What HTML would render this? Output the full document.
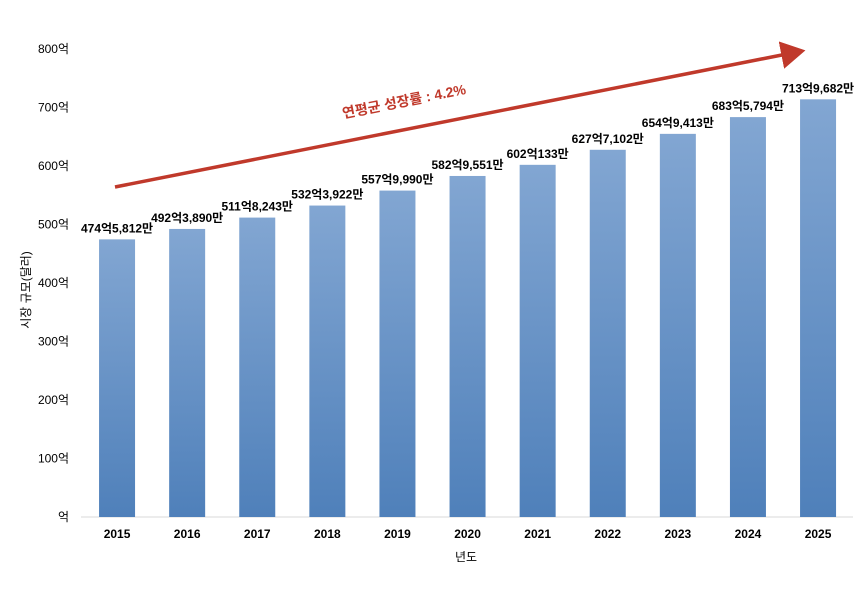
<!DOCTYPE html>
<html><head><meta charset="utf-8"><style>
body{margin:0;background:#fff;}
svg text{font-family:"Liberation Sans","Noto Sans CJK KR",sans-serif;}
</style></head><body>
<svg id="c" width="868" height="590" xmlns="http://www.w3.org/2000/svg">
<defs>
<linearGradient id="g" x1="0" y1="0" x2="0" y2="1"><stop offset="0" stop-color="#82a6d2"/><stop offset="1" stop-color="#4f80ba"/></linearGradient>
<marker id="ah" markerWidth="8" markerHeight="8" refX="6" refY="4" orient="auto" markerUnits="strokeWidth"><path d="M0,0 L7,4 L0,8 Z" fill="#c0392b"/></marker>
</defs>
<line x1="81" y1="517" x2="853" y2="517" stroke="#d9d9d9"/>
<g id="ticks"></g><g id="bars"></g>
<line x1="115" y1="187" x2="802" y2="51" stroke="#c0392b" stroke-width="3.5" marker-end="url(#ah)"/>
<text x="405" y="106" transform="rotate(-11.2 405 106)" text-anchor="middle" font-size="14" font-weight="bold" fill="#c0392b">연평균 성장률 : 4.2%</text>
<text x="30" y="290" transform="rotate(-90 30 290)" text-anchor="middle" font-size="12" fill="#000">시장 규모(달러)</text>
<text x="466" y="561" text-anchor="middle" font-size="12" fill="#000">년도</text>
</svg>
<script>
const categories=["2015","2016","2017","2018","2019","2020","2021","2022","2023","2024","2025"];
const values=[474.58,492.39,511.82,532.39,557.99,582.96,602.01,627.71,654.94,683.58,713.97];
const valueLabels=["474억5,812만","492억3,890만","511억8,243만","532억3,922만","557억9,990만","582억9,551만","602억133만","627억7,102만","654억9,413만","683억5,794만","713억9,682만"];
const yTicks=[0,100,200,300,400,500,600,700,800];
const yTickLabels=["억","100억","200억","300억","400억","500억","600억","700억","800억"];
const NS="http://www.w3.org/2000/svg";
const y0=517,yTop=49,yMax=800,left=82,slot=70.1,bw=36;
const y=v=>y0-(v/yMax)*(y0-yTop);
const xc=i=>left+slot*(i+0.5);
const tk=document.getElementById('ticks'),bg=document.getElementById('bars');
yTicks.forEach((t,i)=>{
 const e=document.createElementNS(NS,'text');
 
 
 e.setAttribute('x',69);e.setAttribute('y',y(t)+4);e.setAttribute('text-anchor','end');e.setAttribute('font-size','12');
 e.textContent=yTickLabels[i];tk.appendChild(e);
});
categories.forEach((c,i)=>{
 const r=document.createElementNS(NS,'rect');
 
 
 r.setAttribute('x',xc(i)-bw/2);r.setAttribute('y',y(values[i]));r.setAttribute('width',bw);r.setAttribute('height',y0-y(values[i]));r.setAttribute('fill','url(#g)');
 bg.appendChild(r);
 const l=document.createElementNS(NS,'text');
 
 
 l.setAttribute('x',xc(i));l.setAttribute('y',y(values[i])-7);l.setAttribute('text-anchor','middle');l.setAttribute('font-size','12');l.setAttribute('font-weight','bold');
 l.textContent=valueLabels[i];bg.appendChild(l);
 const x=document.createElementNS(NS,'text');
 
 
 x.setAttribute('x',xc(i));x.setAttribute('y',538);x.setAttribute('text-anchor','middle');x.setAttribute('font-size','12');x.setAttribute('font-weight','bold');
 x.textContent=c;bg.appendChild(x);
});
</script>
</body></html>
